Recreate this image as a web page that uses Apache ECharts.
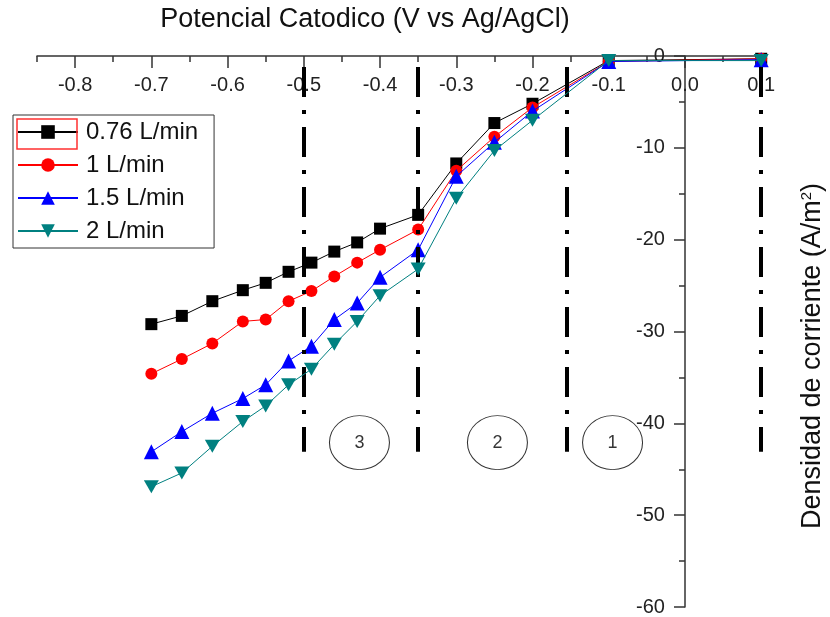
<!DOCTYPE html>
<html>
<head>
<meta charset="utf-8">
<script src="https://cdn.jsdelivr.net/npm/echarts@6/dist/echarts.min.js"></script>
<style>
  html, body { margin: 0; padding: 0; background: #fff; }
  #chart { width: 830px; height: 617px; }
</style>
</head>
<body>
<div id="chart"></div>
<script>
// Cathodic polarisation curves at four flow rates
var potencial = [-0.70, -0.66, -0.62, -0.58, -0.55, -0.52, -0.49, -0.46, -0.43, -0.40, -0.35, -0.30, -0.25, -0.20, -0.10, 0.10];
var caudal076 = [-29.2, -28.3, -26.7, -25.5, -24.7, -23.5, -22.5, -21.3, -20.3, -18.8, -17.3, -11.7, -7.3, -5.2, -0.5, -0.3];
var caudal1   = [-34.6, -33.0, -31.3, -28.9, -28.7, -26.7, -25.6, -24.0, -22.5, -21.1, -18.9, -12.5, -8.8, -5.6, -0.6, -0.3];
var caudal15  = [-43.1, -40.9, -38.9, -37.3, -35.8, -33.2, -31.6, -28.7, -26.9, -24.1, -21.1, -13.1, -9.4, -6.0, -0.6, -0.4];
var caudal2   = [-46.9, -45.4, -42.5, -39.8, -38.1, -35.8, -34.1, -31.4, -28.9, -26.1, -23.2, -15.5, -10.3, -7.0, -0.5, -0.5];
var seriesNames = ['0.76 L/min', '1 L/min', '1.5 L/min', '2 L/min'];

// Axis ranges and ticks
var xMin = -0.85, xMax = 0.105;
var yMin = -60, yMax = 0;
var xMajorTicks = [-0.8, -0.7, -0.6, -0.5, -0.4, -0.3, -0.2, -0.1, 0.0, 0.1];
var xMinorTicks = [-0.85, -0.75, -0.65, -0.55, -0.45, -0.35, -0.25, -0.15, -0.05, 0.05];

// Zone boundaries (dash-dot lines) and zone labels
var zoneBounds = [-0.5, -0.35, -0.155, 0.1];
var zoneBoundTop = -1.2;
var zoneBoundBottom = -43.1;
var zoneLabels = ['3', '2', '1'];
var zoneLabelX = [-0.427, -0.246, -0.095];
var zoneLabelY = [-42.1, -42.1, -42.1];

var FONT = "'Liberation Sans', Arial, sans-serif";
var W = 830;
var GRID = { left: 37, right: 65, top: 56, bottom: 10 };

function pairs(xs, ys) {
  return xs.map(function (x, i) { return [x, ys[i]]; });
}

// vertical axis sits on x = 0: shift it right from the grid's left edge
var gridWidth = W - GRID.left - GRID.right;
var yAxisShift = -(0 - xMin) / (xMax - xMin) * gridWidth;

var invTriangle = 'path://M0,0L20,0L10,17.3Z';

var chart = echarts.init(document.getElementById('chart'), null, { renderer: 'canvas' });

var axisColor = '#333';

var option = {
  animation: false,
  backgroundColor: '#fff',
  title: {
    text: 'Potencial Catodico (V vs Ag/AgCl)',
    left: 360,
    top: 1,
    textAlign: 'center',
    textStyle: { fontFamily: FONT, fontSize: 27, fontWeight: 'normal', color: '#111' }
  },
  grid: { left: GRID.left, right: GRID.right, top: GRID.top, bottom: GRID.bottom, containLabel: false },
  legend: {
    orient: 'vertical',
    left: 13,
    top: 115,
    padding: [5, 16, 5, 4],
    itemWidth: 60,
    itemHeight: 17,
    itemGap: 9,
    borderColor: '#333',
    borderWidth: 1,
    backgroundColor: '#fff',
    textStyle: { fontFamily: FONT, fontSize: 24, lineHeight: 24, color: '#111', padding: [0, 0, 0, 3] },
    data: seriesNames
  },
  xAxis: [
    {
      type: 'value',
      min: xMin,
      max: xMax,
      position: 'top',
      axisLine: { show: true, onZero: false, lineStyle: { color: axisColor, width: 1.5 } },
      axisTick: { show: true, inside: true, length: 12, customValues: xMajorTicks, lineStyle: { color: axisColor, width: 1.5 } },
      axisLabel: {
        show: true, inside: true, margin: 19, customValues: xMajorTicks,
        fontFamily: FONT, fontSize: 20, color: '#222',
        formatter: function (v) { return v.toFixed(1); }
      },
      splitLine: { show: false }
    },
    {
      type: 'value',
      min: xMin,
      max: xMax,
      position: 'top',
      axisLine: { show: false, onZero: false },
      axisTick: { show: true, inside: true, length: 6, customValues: xMinorTicks, lineStyle: { color: axisColor, width: 1.5 } },
      axisLabel: { show: false },
      splitLine: { show: false }
    }
  ],
  yAxis: {
    type: 'value',
    min: yMin,
    max: yMax,
    interval: 10,
    position: 'left',
    offset: yAxisShift,
    axisLine: { show: true, onZero: false, lineStyle: { color: axisColor, width: 1.5 } },
    axisTick: { show: true, length: 11, lineStyle: { color: axisColor, width: 1.5 } },
    minorTick: { show: true, splitNumber: 2, length: 6, lineStyle: { color: axisColor, width: 1.5 } },
    axisLabel: { margin: 20, fontFamily: FONT, fontSize: 20, color: '#222' },
    splitLine: { show: false }
  },
  graphic: [
    {
      type: 'text',
      x: 813,
      y: 356,
      rotation: Math.PI / 2,
      style: {
        text: 'Densidad de corriente (A/m{sup|2})',
        fontFamily: FONT,
        fontSize: 27,
        fill: '#111',
        align: 'center',
        verticalAlign: 'middle',
        rich: { sup: { fontSize: 15, verticalAlign: 'top', padding: [0, 0, 13, 0], fontFamily: FONT } }
      }
    },
    {
      type: 'rect',
      shape: { x: 17, y: 119, width: 60, height: 30 },
      style: { fill: 'none', stroke: '#ff3030', lineWidth: 1.5 },
      z: 200
    }
  ],
  series: [
    {
      name: seriesNames[0], type: 'line', data: pairs(potencial, caudal076),
      symbol: 'rect', symbolSize: 12,
      itemStyle: { color: '#000' }, lineStyle: { color: '#000', width: 1 }, z: 2
    },
    {
      name: seriesNames[1], type: 'line', data: pairs(potencial, caudal1),
      symbol: 'circle', symbolSize: 12,
      itemStyle: { color: '#ff0000' }, lineStyle: { color: '#ff0000', width: 1 }, z: 3
    },
    {
      name: seriesNames[2], type: 'line', data: pairs(potencial, caudal15),
      symbol: 'triangle', symbolSize: 15,
      itemStyle: { color: '#0000ff' }, lineStyle: { color: '#0000ff', width: 1 }, z: 4
    },
    {
      name: seriesNames[3], type: 'line', data: pairs(potencial, caudal2),
      symbol: invTriangle, symbolSize: [15, 13],
      itemStyle: { color: '#008080' }, lineStyle: { color: '#008080', width: 1 }, z: 5
    },
    {
      // zone labels in ellipses, plus the dash-dot zone boundaries
      name: 'zonas', type: 'scatter', silent: true, z: 10,
      data: zoneLabels.map(function (t, i) { return { name: t, value: [zoneLabelX[i], zoneLabelY[i]] }; }),
      symbol: 'circle', symbolSize: [60, 54],
      itemStyle: { color: 'rgba(0,0,0,0)', borderColor: '#000', borderWidth: 1 },
      label: { show: true, position: 'inside', formatter: '{b}', fontFamily: FONT, fontSize: 18, color: '#000' },
      markLine: {
        silent: true,
        symbol: ['none', 'none'],
        label: { show: false },
        lineStyle: { color: '#000', width: 4, type: [30, 13, 4, 13], cap: 'butt' },
        data: zoneBounds.map(function (x) {
          return [{ coord: [x, zoneBoundTop] }, { coord: [x, zoneBoundBottom] }];
        })
      }
    }
  ]
};

chart.setOption(option);
</script>
</body>
</html>
